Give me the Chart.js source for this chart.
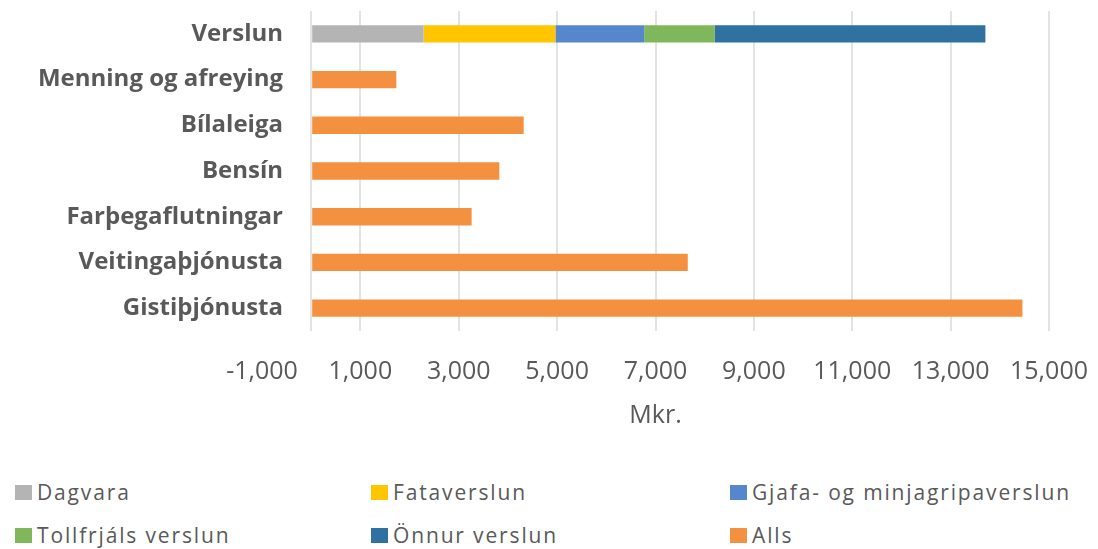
<!DOCTYPE html>
<html>
<head>
<meta charset="utf-8">
<script src="https://cdn.jsdelivr.net/npm/chart.js@4.4.1/dist/chart.umd.min.js"></script>
<style>
  html, body { margin: 0; padding: 0; background: #fff; }
  #wrap { position: relative; width: 1098px; height: 549px; overflow: hidden; }
  #c { position: absolute; left: 0; top: 0; }
  .lg { position: absolute; height: 30px; display: flex; align-items: center; font-family: "Open Sans", sans-serif; font-size: 21px; letter-spacing: 1.85px; color: #595959; white-space: nowrap; }
  .lg .box { width: 17px; height: 15px; margin-right: 5px; flex: none; }
</style>
</head>
<body>
<div id="wrap">
  <canvas id="c" width="1098" height="431"></canvas>
  <div id="legend"></div>
</div>
<script>
const categories = ['Verslun', 'Menning og afreying', 'Bílaleiga', 'Bensín', 'Farþegaflutningar', 'Veitingaþjónusta', 'Gistiþjónusta'];
const seriesNames = ['Dagvara', 'Fataverslun', 'Gjafa- og minjagripaverslun', 'Tollfrjáls verslun', 'Önnur verslun', 'Alls'];
const dagvara     = [2285, null, null, null, null, null, null];
const fataverslun = [2680, null, null, null, null, null, null];
const gjafa       = [1805, null, null, null, null, null, null];
const tollfrjals  = [1437, null, null, null, null, null, null];
const onnur       = [5500, null, null, null, null, null, null];
const alls        = [null, 1730, 4320, 3825, 3262, 7656, 14460];
const xTickValues = [-1000, 0, 1000, 3000, 5000, 7000, 9000, 11000, 13000, 15000];
const colors = ['#B4B4B4', '#FFC600', '#5687CD', '#80B75A', '#2F72A2', '#F39140'];

const seriesData = [dagvara, fataverslun, gjafa, tollfrjals, onnur, alls];
const fmt = v => String(v).replace(/\B(?=(\d{3})+(?!\d))/g, ',');

const yFont = { family: '"Open Sans", sans-serif', size: 24, weight: 'bold' };
const mctx = document.createElement('canvas').getContext('2d');
mctx.font = 'bold 24px "Open Sans", sans-serif';
const widestLabel = Math.max(...categories.map(c => mctx.measureText(c).width));
const yAxisWidth = 262;
const labelRightEdge = 283;

const chart = new Chart(document.getElementById('c'), {
  type: 'bar',
  data: {
    labels: categories,
    datasets: seriesNames.map((n, i) => ({
      label: n,
      data: seriesData[i],
      backgroundColor: colors[i],
      borderWidth: 0,
      barPercentage: 0.38,
      categoryPercentage: 1.0
    }))
  },
  options: {
    indexAxis: 'y',
    responsive: false,
    animation: false,
    devicePixelRatio: 1,
    layout: { padding: { top: 11, right: 49, bottom: 0, left: 0 } },
    plugins: { legend: { display: false }, tooltip: { enabled: false } },
    scales: {
      x: {
        stacked: true,
        min: -1000,
        max: 15000,
        afterBuildTicks: s => { s.ticks = xTickValues.map(v => ({ value: v })); },
        afterFit: s => { s.paddingRight = 0; },
        grid: {
          drawTicks: false,
          lineWidth: 2,
          color: ctx => (ctx.tick && ctx.tick.value === -1000) ? 'rgba(0,0,0,0)' : '#e3e3e3'
        },
        border: { display: false },
        ticks: {
          autoSkip: false,
          maxRotation: 0,
          padding: 26,
          color: '#595959',
          font: { family: '"Open Sans", sans-serif', size: 25, lineHeight: 1.2 },
          callback: v => v === 0 ? '' : fmt(v)
        },
        title: {
          display: true,
          text: 'Mkr.',
          color: '#595959',
          font: { family: '"Open Sans", sans-serif', size: 25, lineHeight: 1.2 },
          padding: { top: -12, bottom: 0 }
        }
      },
      y: {
        stacked: true,
        afterFit: s => { s.width = yAxisWidth; },
        grid: { display: false },
        border: { display: false },
        ticks: {
          mirror: true,
          crossAlign: 'far',
          padding: labelRightEdge - yAxisWidth - widestLabel,
          color: '#595959',
          font: yFont
        }
      }
    }
  }
});

const lefts = [15, 371, 730];
const tops = [477, 520];
const legendEl = document.getElementById('legend');
chart.data.datasets.forEach((ds, i) => {
  const item = document.createElement('div');
  item.className = 'lg';
  item.style.left = lefts[i % 3] + 'px';
  item.style.top = tops[Math.floor(i / 3)] + 'px';
  const box = document.createElement('span');
  box.className = 'box';
  box.style.background = ds.backgroundColor;
  const txt = document.createElement('span');
  txt.textContent = ds.label;
  item.appendChild(box);
  item.appendChild(txt);
  legendEl.appendChild(item);
});
</script>
</body>
</html>
